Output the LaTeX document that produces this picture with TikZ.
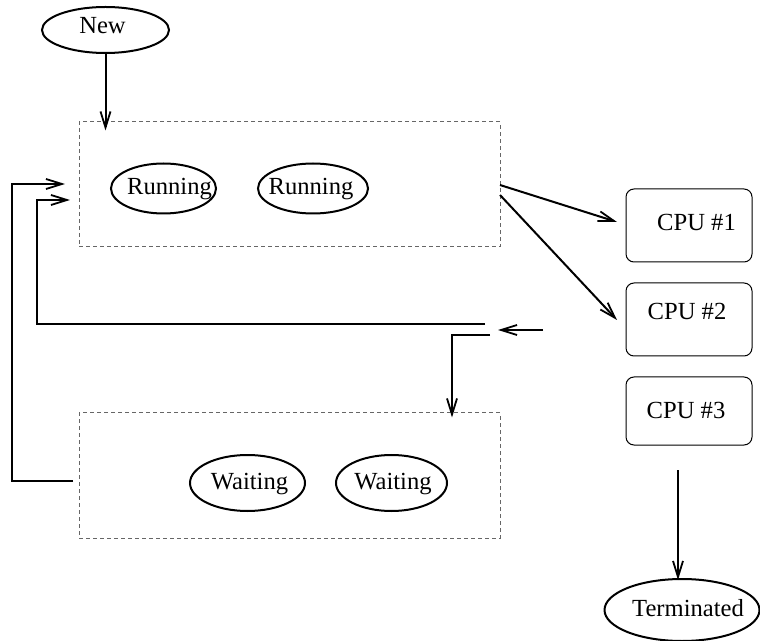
\documentclass[tikz,border=0pt]{standalone}
\usepackage{fontspec}
\setmainfont{Liberation Serif}
\usetikzlibrary{shapes.geometric,arrows.meta}
\begin{document}
\begin{tikzpicture}[x=0.5pt,y=-0.5pt,
  every node/.style={font=\fontsize{12.3}{14}\selectfont},
  state/.style={ellipse,draw,line width=1pt,inner sep=0pt},
  queue/.style={rectangle,draw=black!60,line width=0.5pt,dash pattern=on 2pt off 1.5pt,
    minimum width=210.5pt,minimum height=62.5pt,inner sep=0pt},
  cpubox/.style={rectangle,draw,rounded corners=4pt,line width=0.5pt,
    minimum width=63pt,inner sep=0pt},
  txt/.style={inner sep=0pt,anchor=base},
  flow/.style={line width=1pt,-{Straight Barb[length=8pt,width=5pt,line width=0.9pt]}}]
\useasboundingbox (0,0) rectangle (760,641);

% process states (outlines)
\node[state,minimum width=63.5pt,minimum height=23pt] (new) at (105.5,30) {};
\node[queue] (readyq) at (289.5,184.5) {};
\node[state,minimum width=52.5pt,minimum height=25pt] (run1) at (163.5,188.5) {};
\node[state,minimum width=55pt,minimum height=25pt] (run2) at (313,188.5) {};
\node[queue] (waitq) at (289.5,475.5) {};
\node[state,minimum width=57.5pt,minimum height=28pt] (wait1) at (247.5,483) {};
\node[state,minimum width=55.5pt,minimum height=28pt] (wait2) at (391.5,483) {};
\node[state,minimum width=77.5pt,minimum height=31pt] (term) at (682,610) {};

% processors
\node[cpubox,minimum height=36.5pt] (cpu1) at (689,225.5) {};
\node[cpubox,minimum height=36.5pt] (cpu2) at (689,319.5) {};
\node[cpubox,minimum height=34pt] (cpu3) at (689,411) {};

% labels
\node[txt] (newl) at (102.5,33.5) {New};
\node[txt] (run1l) at (169.5,195) {Running};
\node[txt] (run2l) at (311,195) {Running};
\node[txt] (wait1l) at (249.5,489) {Waiting};
\node[txt] (wait2l) at (393,489) {Waiting};
\node[txt] (terml) at (688,616.5) {Terminated};
\node[txt] (cpu1l) at (696.5,231) {CPU \#1};
\node[txt] (cpu2l) at (687,320) {CPU \#2};
\node[txt] (cpu3l) at (686,418) {CPU \#3};

% junction points of the connectors
\coordinate (d1) at (500,185);
\coordinate (d2) at (500,195);
\coordinate (d1e) at (617,222);
\coordinate (d2e) at (617,320);
\coordinate (ret) at (543,330);
\coordinate (retend) at (498,330);
\coordinate (fbA) at (485,324);
\coordinate (fbAc) at (37,324);
\coordinate (fbAe) at (70,200);
\coordinate (fbB) at (490,335);
\coordinate (fbBc) at (452,335);
\coordinate (wq) at (73,481);
\coordinate (wqc) at (12,481);
\coordinate (wqe) at (65,184);
\coordinate (t0) at (678,470);

% connectors
\draw[flow] (new.south) -- ([yshift=-4.5pt]readyq.north -| new.south);
\draw[flow] (d1) -- (d1e);
\draw[flow] (d2) -- (d2e);
\draw[flow] (ret) -- (retend);
\draw[flow] (fbA) -- (fbAc) |- (fbAe);
\draw[flow] (fbB) -- (fbBc) -- ([yshift=-2.5pt]fbBc |- waitq.north);
\draw[flow] (wq) -- (wqc) |- (wqe);
\draw[flow] (t0) -- ([yshift=-1pt]t0 |- term.north);
\end{tikzpicture}
\end{document}
